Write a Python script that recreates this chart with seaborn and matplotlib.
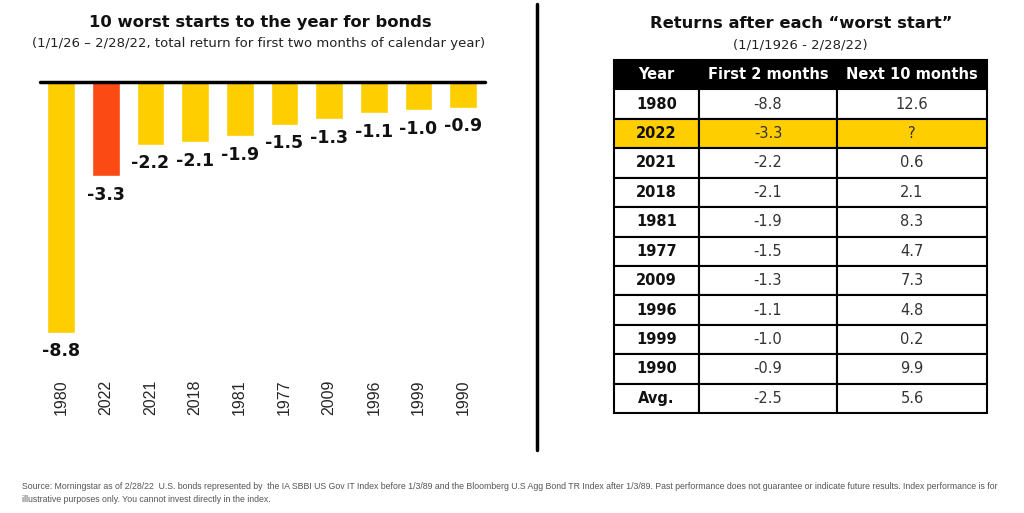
import matplotlib
matplotlib.use('Agg')
import matplotlib.pyplot as plt
import seaborn as sns
import pandas as pd

# chart data
years = ['1980', '2022', '2021', '2018', '1981', '1977', '2009', '1996', '1999', '1990']
first_2_months = [-8.8, -3.3, -2.2, -2.1, -1.9, -1.5, -1.3, -1.1, -1.0, -0.9]
next_10_months = ['12.6', '?', '0.6', '2.1', '8.3', '4.7', '7.3', '4.8', '0.2', '9.9']
avg_first_2 = '-2.5'
avg_next_10 = '5.6'
highlight_year = '2022'

table_header = ['Year', 'First 2 months', 'Next 10 months']

YELLOW = '#FFCE00'
RED = '#FC4A14'

sns.set_style('white')
plt.rcParams['font.family'] = ['DejaVu Sans']

W, H = 1024, 513
fig = plt.figure(figsize=(W / 100, H / 100), dpi=100)


def px_axes(x0, y0, x1, y1):
    return fig.add_axes([x0 / W, 1 - y1 / H, (x1 - x0) / W, (y1 - y0) / H])


# ---- left: bar chart ----
df = pd.DataFrame({'year': years, 'ret': first_2_months})
palette = {y: (RED if y == highlight_year else YELLOW) for y in years}

ax = px_axes(40, 82, 485, 345)
sns.barplot(data=df, x='year', y='ret', hue='year', palette=palette, dodge=False,
            width=0.62, legend=False, saturation=1, ax=ax)
ax.set_xlim(-0.47, 9.49)
ax.set_ylim(-9.23, 0)
for c in ax.containers:
    ax.bar_label(c, fmt='%.1f', padding=7, fontsize=12.5, fontweight='bold',
                 color='#111111')
ax.axhline(0, color='black', lw=2.5, clip_on=False, zorder=5)
ax.set_xlabel('')
ax.set_ylabel('')
ax.set_yticks([])
ax.tick_params(axis='x', length=0, pad=25, labelsize=11.5)
for lab in ax.get_xticklabels():
    lab.set_rotation(90)
    lab.set_family('Liberation Sans')
    lab.set_va('top')
sns.despine(ax=ax, left=True, bottom=True, top=True, right=True)

fig.text(260 / W, 1 - 22 / H, '10 worst starts to the year for bonds',
         ha='center', va='center', fontsize=11.8, fontweight='bold', color='#111111')
fig.text(259 / W, 1 - 44 / H,
         '(1/1/26 \u2013 2/28/22, total return for first two months of calendar year)',
         ha='center', va='center', fontsize=9.5, color='#222222')

# divider
fig.add_artist(plt.Line2D([537 / W, 537 / W], [1 - 4 / H, 1 - 450 / H],
                          color='black', lw=2.5))

# ---- right: table ----
fig.text(801 / W, 1 - 24 / H, 'Returns after each \u201cworst start\u201d',
         ha='center', va='center', fontsize=11.8, fontweight='bold', color='#111111')
fig.text(800 / W, 1 - 45 / H, '(1/1/1926 - 2/28/22)',
         ha='center', va='center', fontsize=9.5, color='#222222')

tax = px_axes(614, 60, 987, 413)
tax.axis('off')
rows = [[y, f'{v:.1f}', n] for y, v, n in zip(years, first_2_months, next_10_months)]
rows.append(['Avg.', avg_first_2, avg_next_10])
col_w = [85, 138, 150]
tbl = tax.table(cellText=rows, colLabels=table_header, cellLoc='center',
                colWidths=[c / sum(col_w) for c in col_w], bbox=[0, 0, 1, 1])
tbl.auto_set_font_size(False)
for (r, c), cell in tbl.get_celld().items():
    cell.set_edgecolor('black')
    cell.set_linewidth(1.5)
    txt = cell.get_text()
    txt.set_fontsize(10.5)
    if r == 0:
        cell.set_facecolor('black')
        txt.set_color('white')
        txt.set_fontweight('bold')
        continue
    if rows[r - 1][0] == highlight_year:
        cell.set_facecolor(YELLOW)
    if c == 0:
        txt.set_fontweight('bold')
        txt.set_color('#111111')
    else:
        txt.set_color('#333333')

# ---- footnote ----
foot = ('Source: Morningstar as of 2/28/22  U.S. bonds represented by  the IA SBBI US Gov IT Index '
        'before 1/3/89 and the Bloomberg U.S Agg Bond TR Index after 1/3/89. Past performance does '
        'not guarantee or indicate future results. Index performance is for\n'
        'illustrative purposes only. You cannot invest directly in the index.')
fig.text(22 / W, 1 - 482 / H, foot, ha='left', va='top', fontsize=6.3,
         family=['Liberation Sans'], color='#555555', linespacing=1.6)

fig.savefig('out.png', dpi=100)
